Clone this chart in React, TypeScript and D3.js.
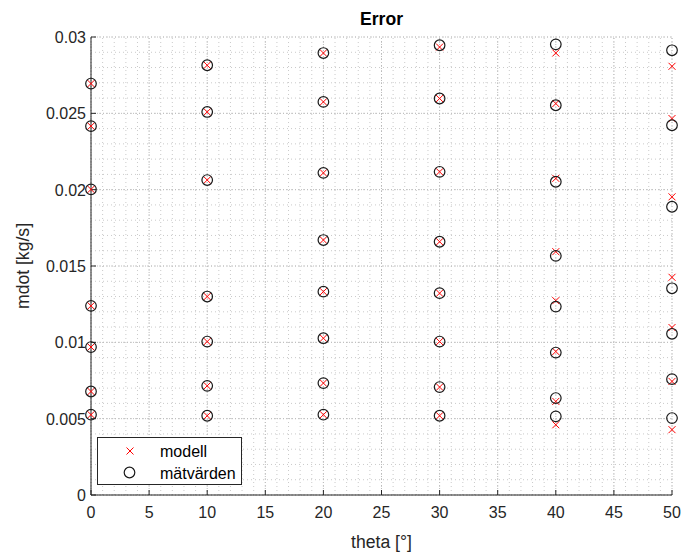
import React from "react";
import * as d3 from "d3";

// theta values (x) where measurements were taken
const thetas = [0, 10, 20, 30, 40, 50];

// modell (red crosses), one list per theta
const modell0 = [0.02695, 0.02416, 0.02002, 0.01239, 0.00969, 0.00678, 0.00526];
const modell10 = [0.02815, 0.02509, 0.02063, 0.013, 0.01005, 0.00715, 0.00519];
const modell20 = [0.02895, 0.02575, 0.0211, 0.0167, 0.01332, 0.01027, 0.00733, 0.00526];
const modell30 = [0.02934, 0.02597, 0.02117, 0.01659, 0.01322, 0.01005, 0.00707, 0.00519];
const modell40 = [0.02895, 0.02564, 0.02074, 0.01594, 0.01273, 0.0094, 0.00613, 0.0046];
const modell50 = [0.02808, 0.02466, 0.01953, 0.01426, 0.01097, 0.00744, 0.00428];

// mätvärden (black circles)
const matv0 = [0.02695, 0.02416, 0.02002, 0.01239, 0.00969, 0.00678, 0.00526];
const matv10 = [0.02815, 0.02509, 0.02063, 0.013, 0.01005, 0.00715, 0.00519];
const matv20 = [0.02895, 0.02575, 0.0211, 0.0167, 0.01332, 0.01027, 0.00733, 0.00526];
const matv30 = [0.02946, 0.02597, 0.02117, 0.01659, 0.01322, 0.01005, 0.00707, 0.00519];
const matv40 = [0.02952, 0.02553, 0.02052, 0.01566, 0.01234, 0.00933, 0.00635, 0.00515];
const matv50 = [0.02913, 0.02422, 0.01888, 0.01354, 0.01056, 0.00759, 0.00504];

const xTicks = [0, 5, 10, 15, 20, 25, 30, 35, 40, 45, 50];
const yTicks = [0, 0.005, 0.01, 0.015, 0.02, 0.025, 0.03];
const yTickLabels = ["0", "0.005", "0.01", "0.015", "0.02", "0.025", "0.03"];

const modellSets = [modell0, modell10, modell20, modell30, modell40, modell50];
const matvSets = [matv0, matv10, matv20, matv30, matv40, matv50];

const W = 683, H = 553;
const margin = { left: 91, right: 11, top: 37, bottom: 58 };
const font = "'Liberation Sans', Arial, sans-serif";
const axisColor = "#262626";

export default function App() {
  const x = d3.scaleLinear().domain([0, 50]).range([margin.left, W - margin.right]);
  const y = d3.scaleLinear().domain([0, 0.03]).range([H - margin.bottom, margin.top]);

  const minorX = d3.range(0, 51, 1);
  const minorY = d3.range(0, 0.0301, 0.001);

  const modellPts = modellSets.flatMap((vals, i) => vals.map((v) => [thetas[i], v]));
  const matvPts = matvSets.flatMap((vals, i) => vals.map((v) => [thetas[i], v]));

  const cross = (cx: number, cy: number, s: number) =>
    `M${cx - s},${cy - s}L${cx + s},${cy + s}M${cx - s},${cy + s}L${cx + s},${cy - s}`;

  return (
    <div style={{ position: "absolute", left: 0, top: 0 }}>
      <svg width={W} height={H} style={{ display: "block", background: "#fff" }}>
        {/* minor grid */}
        <g stroke="#cacaca" strokeWidth={1} strokeDasharray="1,3">
          {minorX.map((d) => (
            <line key={"mx" + d} x1={x(d)} x2={x(d)} y1={y(0)} y2={y(0.03)} />
          ))}
          {minorY.map((d, i) => (
            <line key={"my" + i} x1={x(0)} x2={x(50)} y1={y(d)} y2={y(d)} />
          ))}
        </g>
        {/* major grid */}
        <g stroke="#bcbcbc" strokeWidth={1} strokeDasharray="1,2">
          {xTicks.map((d) => (
            <line key={"gx" + d} x1={x(d)} x2={x(d)} y1={y(0)} y2={y(0.03)} />
          ))}
          {yTicks.map((d) => (
            <line key={"gy" + d} x1={x(0)} x2={x(50)} y1={y(d)} y2={y(d)} />
          ))}
        </g>

        {/* axes */}
        <g stroke={axisColor} strokeWidth={1}>
          <line x1={x(0)} x2={x(0)} y1={y(0)} y2={y(0.03)} />
          <line x1={x(0)} x2={x(50)} y1={y(0)} y2={y(0)} />
          {xTicks.map((d) => (
            <line key={"tx" + d} x1={x(d)} x2={x(d)} y1={y(0)} y2={y(0) - 5} />
          ))}
          {yTicks.map((d) => (
            <line key={"ty" + d} x1={x(0)} x2={x(0) + 5} y1={y(d)} y2={y(d)} />
          ))}
        </g>
        <g fill={axisColor} fontFamily={font} fontSize={16}>
          {xTicks.map((d) => (
            <text key={"lx" + d} x={x(d)} y={y(0) + 23} textAnchor="middle">{d}</text>
          ))}
          {yTicks.map((d, i) => (
            <text key={"ly" + d} x={x(0) - 5} y={y(d) + 6} textAnchor="end">{yTickLabels[i]}</text>
          ))}
        </g>

        {/* data */}
        <g stroke="#ff0000" strokeWidth={1} fill="none">
          {modellPts.map((p, i) => (
            <path key={"m" + i} d={cross(x(p[0]), y(p[1]), 3.5)} />
          ))}
        </g>
        <g stroke="#1a1a1a" strokeWidth={1.2} fill="none">
          {matvPts.map((p, i) => (
            <circle key={"c" + i} cx={x(p[0])} cy={y(p[1])} r={5.3} />
          ))}
        </g>

        {/* labels */}
        <text x={(x(0) + x(50)) / 2} y={25} textAnchor="middle" fontFamily={font} fontSize={17.6} fontWeight="bold" fill="#000">Error</text>
        <text x={(x(0) + x(50)) / 2} y={548} textAnchor="middle" fontFamily={font} fontSize={17.6} fill={axisColor}>theta [°]</text>
        <text transform={`translate(29,${(y(0) + y(0.03)) / 2}) rotate(-90)`} textAnchor="middle" fontFamily={font} fontSize={17.6} fill={axisColor}>mdot [kg/s]</text>

        {/* legend */}
        <g>
          <rect x={97.5} y={437.5} width={144} height={47} fill="#fff" stroke={axisColor} strokeWidth={1} />
          <path d={cross(130, 451, 3.5)} stroke="#ff0000" fill="none" />
          <circle cx={129.5} cy={472.5} r={5.3} stroke="#1a1a1a" strokeWidth={1.2} fill="none" />
          <text x={160} y={457} fontFamily={font} fontSize={16} fill="#000">modell</text>
          <text x={160} y={479} fontFamily={font} fontSize={16} fill="#000">mätvärden</text>
        </g>
      </svg>
    </div>
  );
}
